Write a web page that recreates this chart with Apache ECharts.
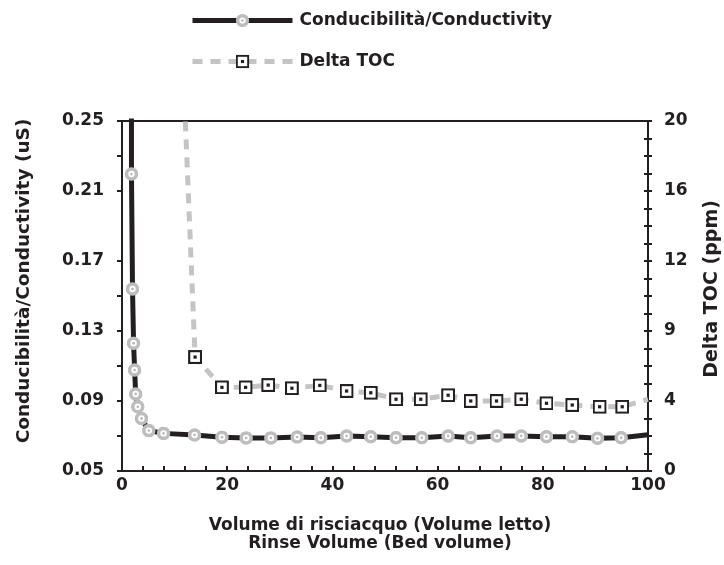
<!DOCTYPE html>
<html>
<head>
<meta charset="utf-8">
<script src="https://cdn.jsdelivr.net/npm/echarts@6/dist/echarts.min.js"></script>
<style>
  html, body { margin: 0; padding: 0; background: #fff; }
  #main { width: 724px; height: 565px; }
</style>
</head>
<body>
<div id="main"></div>
<script>
// valori
var condX = [1.8, 1.8, 2.0, 2.2, 2.4, 2.6, 3.0, 3.7, 5.1, 7.9, 13.8, 19.0, 23.6, 28.3, 33.3,
  37.8, 42.7, 47.3, 52.1, 57.0, 62.0, 66.3, 71.3, 75.9, 80.7, 85.6, 90.4, 94.9, 100]
var condY = [0.27, 0.2197, 0.154, 0.123, 0.1077, 0.094, 0.0867, 0.080, 0.0731, 0.0715, 0.0706, 0.0693, 0.0689, 0.0689, 0.0694,
  0.0690, 0.0700, 0.0696, 0.0690, 0.0690, 0.0700, 0.0690, 0.0700, 0.0700, 0.0696, 0.0696, 0.0687, 0.0690, 0.0707]
var tocX = [11.9, 13.9, 19.0, 23.5, 27.8, 32.3, 37.6, 42.7, 47.3, 52.1, 56.8, 62.0, 66.3, 71.2, 75.9, 80.7, 85.6, 90.8, 95.1, 100]
var tocY = [21, 6.51, 4.78, 4.78, 4.91, 4.73, 4.89, 4.57, 4.47, 4.10, 4.10, 4.33, 4.0, 4.0, 4.10, 3.87, 3.77, 3.67, 3.67, 4.1]

// etichette assi
var xLabelValues = [0, 20, 40, 60, 80, 100]
var leftTickValues = [0.05, 0.07, 0.09, 0.11, 0.13, 0.15, 0.17, 0.21, 0.23, 0.25]
var leftLabelValues = [0.05, 0.09, 0.13, 0.17, 0.21, 0.25]
var leftLabelText = ['0.05', '0.09', '0.13', '0.17', '0.21', '0.25']
var rightLabelValues = [0, 4, 8, 12, 16, 20]
var rightLabelText = ['0', '4', '9', '12', '16', '20']

var ink = '#231f20'
var font = 'DejaVu Sans'

function svgSymbol (svg) {
  return 'image://data:image/svg+xml;charset=utf-8,' + encodeURIComponent(svg)
}
var circleSym = svgSymbol('<svg xmlns="http://www.w3.org/2000/svg" width="28" height="28" viewBox="0 0 14 14">' +
  '<circle cx="7" cy="7" r="5" fill="#fff" stroke="#bdbdbd" stroke-width="3.6"/>' +
  '<circle cx="7" cy="7" r="1.4" fill="#bdbdbd"/></svg>')
var squareSym = svgSymbol('<svg xmlns="http://www.w3.org/2000/svg" width="26" height="26" viewBox="0 0 13 13">' +
  '<rect x="1" y="1" width="11" height="11" fill="#fff" stroke="' + ink + '" stroke-width="2"/>' +
  '<rect x="5" y="5" width="3" height="3" fill="' + ink + '"/></svg>')

function pairs (xs, ys) {
  return xs.map(function (x, i) { return [x, ys[i]] })
}
var condData = pairs(condX, condY).map(function (p, i) {
  // primo e ultimo punto: solo linea
  if (i === 0 || i === condX.length - 1) return { value: p, symbol: 'none' }
  return p
})
var tocData = pairs(tocX, tocY).map(function (p, i) {
  if (i === 0 || i === tocX.length - 1) return { value: p, symbol: 'none' }
  return p
})

var myChart = echarts.init(document.getElementById('main'))
var labelStyle = { color: ink, fontFamily: font, fontWeight: 'bold', fontSize: 17 }

var option = {
  animation: false,
  backgroundColor: '#fff',
  legend: {
    orient: 'vertical',
    left: 185,
    top: 7,
    itemWidth: 100,
    itemHeight: 17,
    itemGap: 24,
    lineStyle: { width: 5 },
    textStyle: { color: ink, fontFamily: font, fontWeight: 'bold', fontSize: 17, padding: [0, 0, 0, 2] },
    data: ['Conducibilità/Conductivity', 'Delta TOC']
  },
  grid: {
    left: 122,
    right: 76,
    top: 121,
    bottom: 94,
    outerBoundsMode: 'none',
    show: true,
    borderColor: ink,
    borderWidth: 2
  },
  xAxis: {
    type: 'value',
    min: 0,
    max: 100,
    interval: 4,
    name: 'Volume di risciacquo (Volume letto)\nRinse Volume (Bed volume)',
    nameLocation: 'middle',
    nameGap: 46,
    nameTextStyle: { color: ink, fontFamily: font, fontSize: 17, fontWeight: 'bold', lineHeight: 18, padding: [0, 10, 0, 0] },
    axisLine: { lineStyle: { color: ink, width: 2 } },
    axisTick: { inside: true, length: 5, lineStyle: { color: ink, width: 2 } },
    axisLabel: Object.assign({ margin: 6, customValues: xLabelValues }, labelStyle),
    splitLine: { show: false }
  },
  yAxis: [{
    type: 'value',
    position: 'left',
    min: 0.05,
    max: 0.25,
    name: 'Conducibilità/Conductivity (uS)',
    nameLocation: 'middle',
    nameRotate: 90,
    nameGap: 88,
    nameTextStyle: { color: ink, fontFamily: font, fontSize: 18.5, fontWeight: 'bold', padding: [0, 0, 0, 30] },
    axisLine: { show: true, lineStyle: { color: ink, width: 2 } },
    axisTick: { show: true, length: 5, customValues: leftTickValues, lineStyle: { color: ink, width: 2 } },
    axisLabel: Object.assign({
      margin: 18,
      customValues: leftLabelValues,
      formatter: function (v) { return leftLabelText[leftLabelValues.indexOf(v)] }
    }, labelStyle),
    splitLine: { show: false }
  }, {
    type: 'value',
    position: 'right',
    min: 0,
    max: 20,
    interval: 1,
    name: 'Delta TOC (ppm)',
    nameLocation: 'middle',
    nameRotate: 90,
    nameGap: 55,
    nameTextStyle: { color: ink, fontFamily: font, fontSize: 19, fontWeight: 'bold', padding: [0, 0, 0, 14] },
    axisLine: { show: true, lineStyle: { color: ink, width: 2 } },
    axisTick: { show: true, length: 4, lineStyle: { color: ink, width: 2 } },
    axisLabel: Object.assign({
      margin: 16,
      customValues: rightLabelValues,
      formatter: function (v) { return rightLabelText[rightLabelValues.indexOf(v)] }
    }, labelStyle),
    splitLine: { show: false }
  }, {
    // tacche interne dell'asse destro
    type: 'value',
    position: 'right',
    min: 0,
    max: 20,
    interval: 1,
    axisLine: { show: false },
    axisTick: { show: true, inside: true, length: 4, lineStyle: { color: ink, width: 2 } },
    axisLabel: { show: false },
    splitLine: { show: false }
  }],
  series: [{
    name: 'Delta TOC',
    type: 'line',
    yAxisIndex: 1,
    data: tocData,
    symbol: squareSym,
    symbolSize: 14,
    lineStyle: { color: '#c4c4c4', width: 5, type: [10, 8] },
    itemStyle: { color: '#c4c4c4' },
    z: 2
  }, {
    name: 'Conducibilità/Conductivity',
    type: 'line',
    yAxisIndex: 0,
    data: condData,
    symbol: circleSym,
    symbolSize: 14,
    lineStyle: { color: ink, width: 5 },
    itemStyle: { color: ink },
    z: 3
  }]
}
myChart.setOption(option)
</script>
</body>
</html>
